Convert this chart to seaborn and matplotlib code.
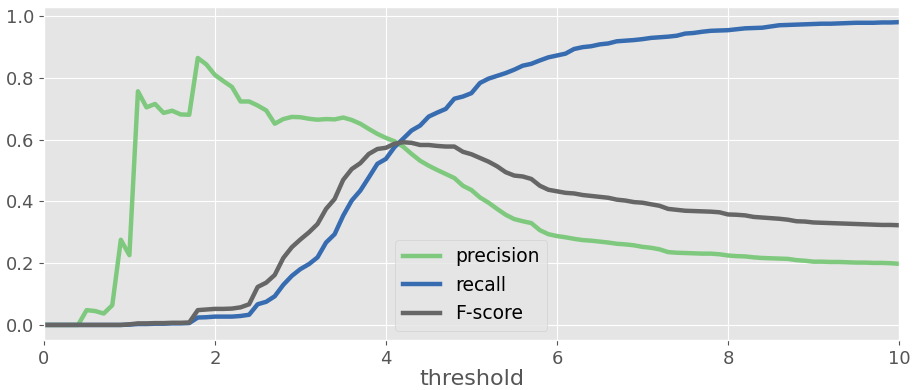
import pandas as pd
import seaborn as sns
import matplotlib.pyplot as plt

thresholds = [
    0.0, 0.1, 0.2, 0.3, 0.4, 0.5, 0.6, 0.7, 0.8, 0.9,
    1.0, 1.1, 1.2, 1.3, 1.4, 1.5, 1.6, 1.7, 1.8, 1.9,
    2.0, 2.1, 2.2, 2.3, 2.4, 2.5, 2.6, 2.7, 2.8, 2.9,
    3.0, 3.1, 3.2, 3.3, 3.4, 3.5, 3.6, 3.7, 3.8, 3.9,
    4.0, 4.1, 4.2, 4.3, 4.4, 4.5, 4.6, 4.7, 4.8, 4.9,
    5.0, 5.1, 5.2, 5.3, 5.4, 5.5, 5.6, 5.7, 5.8, 5.9,
    6.0, 6.1, 6.2, 6.3, 6.4, 6.5, 6.6, 6.7, 6.8, 6.9,
    7.0, 7.1, 7.2, 7.3, 7.4, 7.5, 7.6, 7.7, 7.8, 7.9,
    8.0, 8.1, 8.2, 8.3, 8.4, 8.5, 8.6, 8.7, 8.8, 8.9,
    9.0, 9.1, 9.2, 9.3, 9.4, 9.5, 9.6, 9.7, 9.8, 9.9,
    10.0,
]

precision = [
    0.0, 0.0, 0.0, 0.0, 0.0, 0.048, 0.045, 0.037, 0.064, 0.276,
    0.226, 0.757, 0.705, 0.716, 0.687, 0.694, 0.682, 0.681, 0.865, 0.844,
    0.810, 0.790, 0.771, 0.724, 0.724, 0.711, 0.695, 0.652, 0.667, 0.674,
    0.673, 0.668, 0.665, 0.667, 0.666, 0.672, 0.664, 0.652, 0.635, 0.619,
    0.606, 0.595, 0.578, 0.554, 0.532, 0.516, 0.502, 0.489, 0.476, 0.451,
    0.437, 0.413, 0.396, 0.376, 0.357, 0.343, 0.336, 0.330, 0.307, 0.294,
    0.288, 0.284, 0.279, 0.275, 0.273, 0.270, 0.267, 0.263, 0.261, 0.258,
    0.253, 0.250, 0.245, 0.236, 0.234, 0.233, 0.232, 0.231, 0.231, 0.229,
    0.225, 0.223, 0.222, 0.219, 0.217, 0.216, 0.215, 0.214, 0.210, 0.208,
    0.205, 0.205, 0.204, 0.204, 0.203, 0.202, 0.202, 0.201, 0.201, 0.200,
    0.198,
]

recall = [
    0.0, 0.0, 0.0, 0.0, 0.0, 0.0, 0.0, 0.0, 0.0, 0.0,
    0.001, 0.003, 0.003, 0.004, 0.004, 0.005, 0.005, 0.006, 0.024, 0.025,
    0.027, 0.027, 0.027, 0.029, 0.033, 0.067, 0.075, 0.093, 0.130, 0.159,
    0.181, 0.197, 0.219, 0.267, 0.294, 0.354, 0.403, 0.435, 0.478, 0.522,
    0.538, 0.576, 0.603, 0.630, 0.646, 0.675, 0.688, 0.700, 0.733, 0.740,
    0.751, 0.784, 0.798, 0.807, 0.816, 0.827, 0.840, 0.846, 0.857, 0.867,
    0.873, 0.879, 0.894, 0.900, 0.903, 0.909, 0.912, 0.919, 0.921, 0.923,
    0.926, 0.930, 0.932, 0.934, 0.937, 0.944, 0.946, 0.950, 0.953, 0.954,
    0.955, 0.958, 0.961, 0.962, 0.963, 0.967, 0.971, 0.972, 0.973, 0.974,
    0.975, 0.976, 0.976, 0.977, 0.978, 0.979, 0.979, 0.979, 0.980, 0.980,
    0.981,
]

fscore = [
    0.0, 0.0, 0.0, 0.0, 0.0, 0.0, 0.0, 0.0, 0.0, 0.0,
    0.002, 0.005, 0.005, 0.006, 0.006, 0.007, 0.007, 0.008, 0.048, 0.050,
    0.052, 0.052, 0.053, 0.057, 0.067, 0.123, 0.137, 0.162, 0.217, 0.252,
    0.277, 0.300, 0.327, 0.376, 0.408, 0.470, 0.505, 0.524, 0.554, 0.570,
    0.574, 0.587, 0.592, 0.590, 0.583, 0.583, 0.580, 0.578, 0.578, 0.561,
    0.553, 0.541, 0.529, 0.514, 0.495, 0.484, 0.481, 0.473, 0.451, 0.438,
    0.433, 0.428, 0.426, 0.421, 0.418, 0.415, 0.412, 0.406, 0.403, 0.398,
    0.396, 0.391, 0.386, 0.376, 0.373, 0.370, 0.369, 0.368, 0.367, 0.365,
    0.358, 0.357, 0.355, 0.350, 0.348, 0.346, 0.344, 0.341, 0.336, 0.335,
    0.332, 0.331, 0.330, 0.329, 0.328, 0.327, 0.326, 0.325, 0.324, 0.324,
    0.323,
]

series_names = ['precision', 'recall', 'F-score']
colors = ['#7fc97f', '#386cb0', '#666666']

df = pd.concat([
    pd.DataFrame({'threshold': thresholds, 'value': vals, 'metric': name})
    for name, vals in zip(series_names, [precision, recall, fscore])
])

plt.style.use('ggplot')
plt.rcParams['font.family'] = ['DejaVu Sans']

fig, ax = plt.subplots(figsize=(9.14, 3.9), dpi=100)
fig.subplots_adjust(left=0.048, right=0.9836, top=0.982, bottom=0.128)

sns.lineplot(data=df, x='threshold', y='value', hue='metric',
             palette=dict(zip(series_names, colors)), linewidth=3.2, ax=ax)

ax.set_xlim(0, 10)
ax.set_ylabel('')
ax.set_xlabel('threshold', fontsize=16, color='#555555', labelpad=1)
ax.tick_params(labelsize=13)
ax.legend(loc='lower center', fontsize=13.5, title=None)

fig.savefig('out.png')
